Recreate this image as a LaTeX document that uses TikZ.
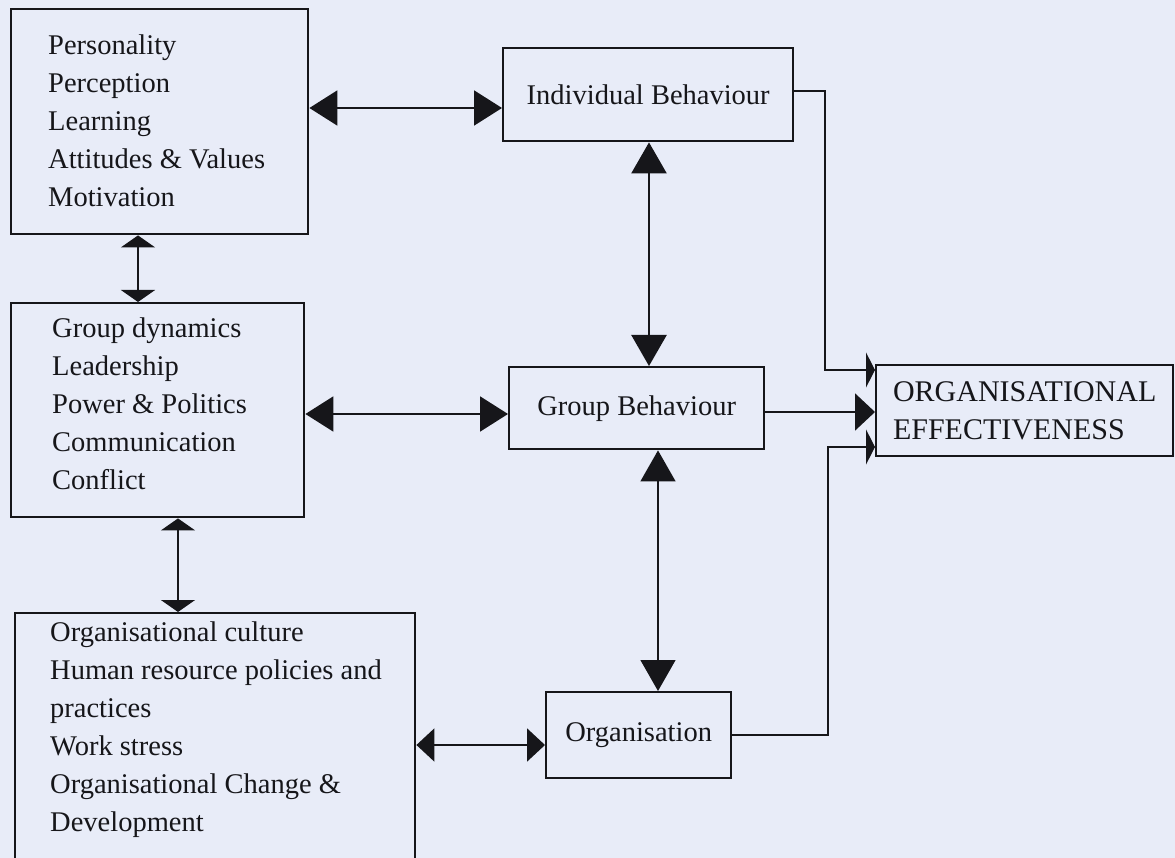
\documentclass[tikz,border=0pt]{standalone}
\usepackage{fontspec}
\setmainfont{Liberation Serif}
\usetikzlibrary{arrows.meta}
\definecolor{paper}{RGB}{232,236,248}
\definecolor{ink}{RGB}{22,22,26}
\begin{document}
\begin{tikzpicture}[x=1pt,y=-1pt,
  box/.style={draw=ink, line width=2.4pt, inner sep=0pt, anchor=north west,
    font=\fontsize{28.5}{38}\selectfont, text=ink},
  list/.style={anchor=west, align=left, inner sep=0pt,
    font=\fontsize{28.5}{38}\selectfont, text=ink},
  heavy/.style={draw=ink, line width=2pt},
  light/.style={draw=ink, line width=1.3pt},
  wide/.style={arrows={Triangle[length=28pt,width=35pt]-Triangle[length=28pt,width=35pt]}},
  tall/.style={arrows={Triangle[length=31pt,width=35pt]-Triangle[length=31pt,width=35pt]}},
  flat/.style={arrows={Triangle[length=12pt,width=34pt]-Triangle[length=12pt,width=34pt]}},
  mid/.style={arrows={Triangle[length=18pt,width=33pt]-Triangle[length=18pt,width=33pt]}},
  slim/.style={arrows={-Triangle[length=9pt,width=35pt]}},
  into/.style={arrows={-Triangle[length=20pt,width=37pt]}}
]
\useasboundingbox (0,0) rectangle (1175,858);
\clip (0,0) rectangle (1175,858);
\fill[paper] (0,0) rectangle (1175,858);

% boxes
\node[box, minimum width=297pt, minimum height=225pt] (A) at (10,8) {};
\node[list] (Atext) at (48,121) {Personality\\Perception\\Learning\\Attitudes \& Values\\Motivation};

\node[box, minimum width=293pt, minimum height=214pt] (B) at (10,302) {};
\node[list] (Btext) at (52,404) {Group dynamics\\Leadership\\Power \& Politics\\Communication\\Conflict};

\node[box, minimum width=400pt, minimum height=300pt] (C) at (14,612) {};
\node[list] (Ctext) at (50,730) {Organisational culture\\Human resource policies and\\practices\\Work stress\\Organisational Change \&\\Development};

\node[box, minimum width=290pt, minimum height=93pt] (IB) at (502,47) {Individual Behaviour};
\node[box, minimum width=255pt, minimum height=82pt] (GB) at (508,366) {Group Behaviour};
\node[box, minimum width=185pt, minimum height=86pt] (Org) at (545,691) {Organisation};
\node[box, minimum width=297pt, minimum height=91pt, align=left,
  font=\fontsize{30}{38}\selectfont] (OE) at (875,364) {ORGANISATIONAL\\EFFECTIVENESS};

% rails for the connectors
\coordinate (rAI) at (0,108);
\coordinate (rBG) at (0,414);
\coordinate (rCO) at (0,745);
\coordinate (rIB) at (0,91);
\coordinate (rT) at (0,370);
\coordinate (rM) at (0,412);
\coordinate (rL) at (0,447);
\coordinate (rOrg) at (0,735);
\coordinate (cAB) at (138,0);
\coordinate (cBC) at (178,0);
\coordinate (cIG) at (649,0);
\coordinate (cGO) at (658,0);
\coordinate (cR1) at (825,0);
\coordinate (cR2) at (828,0);

% two-way links
\draw[heavy, wide] (A.east |- rAI) -- (IB.west |- rAI);
\draw[heavy, wide] (B.east |- rBG) -- (GB.west |- rBG);
\draw[heavy, mid] (C.east |- rCO) -- (Org.west |- rCO);
\draw[heavy, line width=2.4pt, tall] (IB.south -| cIG) -- (GB.north -| cIG);
\draw[light, tall] (GB.south -| cGO) -- (Org.north -| cGO);
\draw[light, flat] (A.south -| cAB) -- (B.north -| cAB);
\draw[light, flat] (B.south -| cBC) -- (C.north -| cBC);

% links into effectiveness
\draw[light, slim] (IB.east |- rIB) -- (cR1 |- rIB) -- (cR1 |- rT) -- (OE.west |- rT);
\draw[heavy, into] (GB.east |- rM) -- (OE.west |- rM);
\draw[light, slim] (Org.east |- rOrg) -- (cR2 |- rOrg) -- (cR2 |- rL) -- (OE.west |- rL);
\end{tikzpicture}
\end{document}
